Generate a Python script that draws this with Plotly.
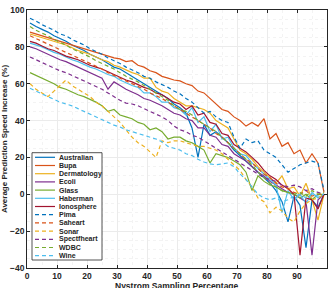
import plotly.graph_objects as go

# Nystrom sampling percentage (x positions of the samples)
pct = list(range(1, 100, 2))

australian = [93, 91, 89.5, 88, 86, 84.5, 83, 81, 79.5, 78,
              76, 74.5, 73, 71, 69, 68, 66, 64, 62, 60,
              58, 56, 54, 52, 49, 47, 44, 36, 20, 38,
              32, 34, 31, 28, 24, 21, 18, 15, 12, 9,
              6, 2, -4, -15, -1, -6, -29, -3, -7, 0]
bupa = [88, 87, 86, 85, 84, 83, 82, 81, 80, 79,
        78, 77, 76, 75, 74, 73.5, 72, 72.5, 70, 69,
        67, 66, 64, 63, 62, 61.5, 60, 59, 56, 55,
        52, 49, 46, 45, 42, 40, 37, 39, 37, 41,
        30, 33, 26, 28, 22, 24, 17, 22, 17, 1]
dermatology = [87, 86, 85, 84, 83, 82, 81, 79.5, 78, 77,
               76, 74.5, 73, 72, 70, 69, 67.5, 66, 65, 63,
               63, 58, 56, 55, 52, 50, 48, 48, 47, 46,
               44, 40, 38, 36, 30, 24, 22, 19, 15, 12,
               9, 6, 10, 3, 4, -1, 6, -3, -14, 0]
ecoli = [80, 79, 77.5, 76, 74.5, 73, 72, 70.5, 69, 67.5,
         66, 64.5, 63, 57, 61, 59, 57, 55.5, 54, 52,
         51, 49.5, 48, 46, 44, 43, 41, 40, 36, 36,
         32, 31, 27, 26, 22, 20, 18, 15, 12, 10,
         7, 5, 3, 1, 0, -2, -4, -33, -3, 0]
glass = [66, 64.5, 63, 61.5, 60, 58, 57, 55.5, 54, 53,
         51.5, 50, 48, 45, 46, 43, 42, 41, 39, 38,
         35, 36, 34, 30, 31, 31, 29, 28, 26, 24,
         17, 22, 21, 20, 18, 16, 12, 2, 10, 7,
         5, 4, 2, 1, 0, -2, 0, -3, 0, 0]
haberman = [82, 81, 80, 78.5, 77, 76, 74.5, 73, 72, 70.5,
            69, 68, 66.5, 65, 64, 62, 60.5, 59, 58, 55,
            55, 53, 50, 50, 47, 46, 43, 47, 39, 42,
            34, 38, 30, 31, 25, 22, 21, 17, 14, 11,
            8, 5, -10, 2, -3, 0, -5, 1, -2, 0]
ionosphere = [83, 82, 80.5, 79, 78, 76.5, 75, 74, 73, 71.5,
              70, 69, 68, 66.5, 65, 63.5, 62, 61, 59.5, 58,
              57, 55, 54, 52, 50, 49, 46, 48, 43, 44,
              39, 38, 33, 32, 27, 25, 23, 20, 17, 13,
              10, 8, 5, 3, 0, -33, -2, -3, -8, 0]
pima = [95.5, 94, 92, 90.5, 89, 87, 86, 84, 82.5, 81,
        79, 77.5, 76, 74, 72.5, 71, 69, 67.5, 66, 64,
        63, 61, 59.5, 58, 56, 54.5, 52, 50, 47, 44,
        45, 42, 40, 39, 31, 25, 30, 28, 29, 24,
        22, 20, 16, 12, 14, 16, 17, 18, 17, 2]
saheart = [86, 84.5, 83, 81.5, 80, 78.5, 77, 75.5, 74, 72.5,
           71, 69.5, 68, 66, 64.5, 63, 61.5, 60, 58.5, 57,
           55, 53.5, 52, 50, 48, 46, 44, 42, 40, 38,
           36, 33, 31, 28, 25, 22, 19, 17, 14, 11,
           9, 6, 4, 3, 1, 0, 2, -1, 0, 0]
sonar = [60, 57, 55, 53, 56, 59, 62, 59, 57, 55,
         53, 50, 48, 45, 42, 39, 35, 31, 28, 26,
         23, 20, 29, 28, 29, 29, 28, 27, 26, 26,
         25, 24, 22, 19, 16, 13, 8, 4, -2, -4,
         -10, -7, -9, -13, -15, -9, -5, -3, -2, 0]
spectfheart = [74.5, 73, 71.5, 70, 68.5, 67, 66, 64.5, 63, 61.5,
               60, 58.5, 57, 55, 53, 51, 49.5, 49, 48, 46.5,
               45, 43.5, 42, 40, 37, 35, 34, 32, 31, 29,
               27, 25, 23, 21, 19, 17, 15, 13, 11, 9,
               8, 7, 5, 4, 5, 4, 2, 3, 1, 0]
wdbc = [91, 89, 87.5, 86, 84, 82.5, 81, 79, 77.5, 76,
        74.5, 72.5, 71, 69.5, 68, 66, 64, 62.5, 61, 59,
        57, 55, 53, 51, 48, 46, 45, 43, 40, 38,
        36, 34, 31, 28, 25, 22, 19, 16, 12, 9,
        6, 4, 2, 1, 0, 1, -1, 2, 0, 1]
wine = [57.5, 56, 54.5, 53, 51.5, 50, 49, 48, 46.5, 45,
        43.5, 42, 40.5, 39, 37.5, 36.5, 35, 34, 33, 32,
        31, 30, 28.5, 26, 25, 24, 22, 21, 19, 17.5,
        16.5, 16, 16.5, 17, 15, 11, 8, 4, 0, -2,
        -3, -2, -4, -3, -1, 0, -2, 0, -1, 0]

names = ["Australian", "Bupa", "Dermatology", "Ecoli", "Glass", "Haberman",
         "Ionosphere", "Pima", "Saheart", "Sonar", "Spectfheart", "WDBC", "Wine"]
values = [australian, bupa, dermatology, ecoli, glass, haberman, ionosphere,
          pima, saheart, sonar, spectfheart, wdbc, wine]

x_title = "Nystrom Sampling Percentage"
y_title = "Average Prediction Speed Increase (%)"

palette = ["#0072BD", "#D95319", "#EDB120", "#7E2F8E", "#77AC30", "#4DBEEE", "#A2142F"]
colors = palette + palette[:6]
dashes = ["solid"] * 7 + ["4px,3px"] * 6

font_main = dict(family="Liberation Sans, Arial, sans-serif", color="#262626", weight="bold")

fig = go.Figure()
for name, vals, col, dsh in zip(names, values, colors, dashes):
    fig.add_trace(go.Scatter(x=pct, y=vals, mode="lines", name=name,
                             line=dict(color=col, width=1.2, dash=dsh),
                             showlegend=False))

# plot-area geometry (pixels) used to place a compact MATLAB-like legend
W, H = 333, 288
ml, mr, mt, mb = 27, 6, 10, 20
pw, ph = W - ml - mr, H - mt - mb

def px(xp):
    return (xp - ml) / pw

def py(yp):
    return (H - mb - yp) / ph

shapes = [dict(type="rect", xref="paper", yref="paper",
               x0=px(32), x1=px(102), y0=py(260), y1=py(152.7),
               line=dict(color="#262626", width=0.8), fillcolor="white", layer="above")]
annotations = []
for i, (name, col, dsh) in enumerate(zip(names, colors, dashes)):
    yy = py(157.3 + i * 8.2)
    shapes.append(dict(type="line", xref="paper", yref="paper",
                       x0=px(35), x1=px(55), y0=yy, y1=yy, layer="above",
                       line=dict(color=col, width=1.2, dash=dsh)))
    annotations.append(dict(xref="paper", yref="paper", x=px(56.5), y=yy,
                            text=name, showarrow=False, xanchor="left", yanchor="middle",
                            font=dict(size=7, **font_main)))

# x-axis title sits low on the page, as in the original
annotations.append(dict(xref="paper", yref="paper", x=0.5, y=py(278.5),
                        text=x_title, showarrow=False, xanchor="center", yanchor="top",
                        font=dict(size=8.5, **font_main)))

axis_common = dict(showline=True, linecolor="#262626", linewidth=0.8, mirror="ticks",
                   ticks="inside", ticklen=3, tickcolor="#262626", tickwidth=0.8,
                   showgrid=True, gridcolor="#ebebeb", gridwidth=0.6, zeroline=False,
                   automargin=False, tickfont=dict(size=8.5, **font_main))

fig.update_xaxes(range=[0, 100], dtick=10, tick0=0,
                 minor=dict(dtick=5, showgrid=True, gridcolor="#f3f3f3", griddash="dot", gridwidth=0.6),
                 **axis_common)
fig.update_yaxes(range=[-40, 100], dtick=20, tick0=0,
                 minor=dict(dtick=5, showgrid=True, gridcolor="#f3f3f3", griddash="dot", gridwidth=0.6),
                 title=dict(text=y_title, font=dict(size=8, **font_main), standoff=2),
                 **axis_common)

fig.update_layout(width=W, height=H, margin=dict(l=ml, r=mr, t=mt, b=mb),
                  paper_bgcolor="white", plot_bgcolor="white",
                  shapes=shapes, annotations=annotations, showlegend=False)

fig.write_html("out.html")
